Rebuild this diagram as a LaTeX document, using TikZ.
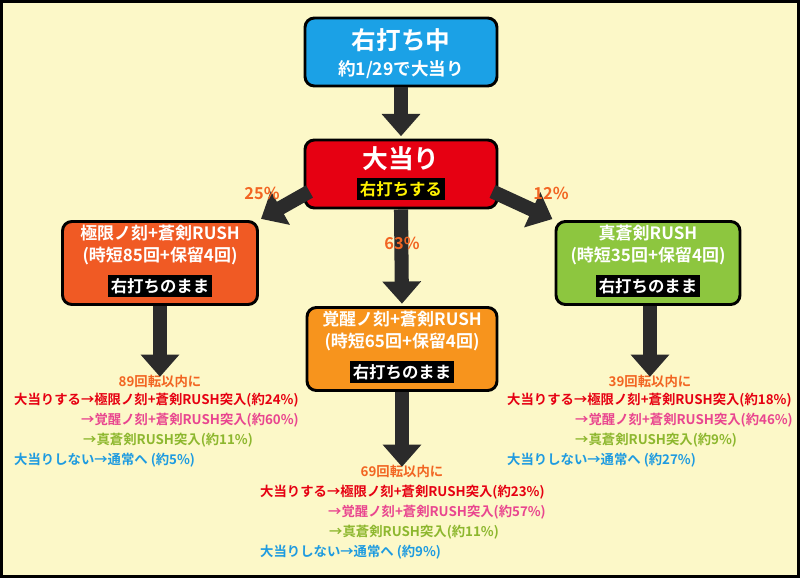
\documentclass[tikz,border=0pt]{standalone}
\usepackage{fontspec}
\setmainfont{Noto Sans CJK JP}[BoldFont={Noto Sans CJK JP Bold}]
\usetikzlibrary{arrows.meta}
\definecolor{bgcream}{HTML}{FCF8C8}
\definecolor{hitred}{HTML}{E60012}
\definecolor{skyblue}{HTML}{1BA1E6}
\definecolor{rushorange}{HTML}{F05A24}
\definecolor{wakeorange}{HTML}{F7941D}
\definecolor{truegreen}{HTML}{8DC63F}
\definecolor{linepink}{HTML}{E9468F}
\definecolor{linegreen}{HTML}{8DB72E}
\definecolor{lineblue}{HTML}{1E9BE0}
\definecolor{pctorange}{HTML}{F26522}
\definecolor{arrowgray}{HTML}{2B2B2B}
\tikzset{
  modebox/.style={draw=black, line width=2.5pt, rounded corners=8pt, font=\bfseries,
    text=white, align=center, inner sep=0pt},
  tag/.style={fill=black, font=\bfseries\fontsize{14pt}{16pt}\selectfont, inner sep=2.5pt},
  flow/.style={arrowgray, line width=12pt, -{Triangle[width=32pt,length=19pt]}, shorten >=2pt},
  pct/.style={pctorange, font=\bfseries\fontsize{14pt}{16pt}\selectfont},
  rline/.style={anchor=west, font=\bfseries\fontsize{11.4pt}{13pt}\selectfont, inner sep=0pt},
  rtitle/.style={pctorange, font=\bfseries\fontsize{11.4pt}{13pt}\selectfont, inner sep=0pt}
}
\begin{document}
\begin{tikzpicture}[x=0.03cm,y=-0.03cm]
  \fill[bgcream] (0,0) rectangle (800,578);
  \draw[black,line width=2.5pt] (1.5,1.5) rectangle (798.5,576.5);
  % boxes
  \node[modebox, fill=skyblue, minimum width=192*0.03cm, minimum height=68*0.03cm] (ride) at (401,52) {};
  \node[white, font=\bfseries\fontsize{21pt}{24pt}\selectfont] at (401,40) {右打ち中};
  \node[white, font=\bfseries\fontsize{15pt}{18pt}\selectfont] at (401,70) {約1/29で大当り};
  \node[modebox, fill=hitred, minimum width=192*0.03cm, minimum height=68*0.03cm] (hit) at (401,174) {};
  \node[white, font=\bfseries\fontsize{22pt}{24pt}\selectfont] at (401,159) {大当り};
  \node[tag, text=yellow] at (401,189) {右打ちする};
  \node[modebox, fill=rushorange, minimum width=195*0.03cm, minimum height=83*0.03cm] (limit) at (160,263) {};
  \node[white, font=\bfseries\fontsize{14.5pt}{19pt}\selectfont, align=center] at (160,245) {極限ノ刻+蒼剣RUSH\\(時短85回+保留4回)};
  \node[tag, text=white] at (160,286) {右打ちのまま};
  \node[modebox, fill=wakeorange, minimum width=190*0.03cm, minimum height=83*0.03cm] (wake) at (402,349) {};
  \node[white, font=\bfseries\fontsize{14.5pt}{19pt}\selectfont, align=center] at (402,331) {覚醒ノ刻+蒼剣RUSH\\(時短65回+保留4回)};
  \node[tag, text=white] at (402,372) {右打ちのまま};
  \node[modebox, fill=truegreen, minimum width=184*0.03cm, minimum height=83*0.03cm] (sword) at (648,263) {};
  \node[white, font=\bfseries\fontsize{14.5pt}{19pt}\selectfont, align=center] at (648,245) {真蒼剣RUSH\\(時短35回+保留4回)};
  \node[tag, text=white] at (648,286) {右打ちのまま};
  % results
  \node[rtitle] (limitres) at (160,381) {89回転以内に};
  \node[rline, hitred] at (14,400) {大当りする→極限ノ刻+蒼剣RUSH突入(約24\%)};
  \node[rline, linepink] at (81,420) {→覚醒ノ刻+蒼剣RUSH突入(約60\%)};
  \node[rline, linegreen] at (83,440) {→真蒼剣RUSH突入(約11\%)};
  \node[rline, lineblue] at (14,460) {大当りしない→通常へ (約5\%)};
  \node[rtitle] (wakeres) at (402,471) {69回転以内に};
  \node[rline, hitred] at (260,492) {大当りする→極限ノ刻+蒼剣RUSH突入(約23\%)};
  \node[rline, linepink] at (328,512) {→覚醒ノ刻+蒼剣RUSH突入(約57\%)};
  \node[rline, linegreen] at (329,532) {→真蒼剣RUSH突入(約11\%)};
  \node[rline, lineblue] at (260,552) {大当りしない→通常へ (約9\%)};
  \node[rtitle] (swordres) at (650,381) {39回転以内に};
  \node[rline, hitred] at (507,400) {大当りする→極限ノ刻+蒼剣RUSH突入(約18\%)};
  \node[rline, linepink] at (575,420) {→覚醒ノ刻+蒼剣RUSH突入(約46\%)};
  \node[rline, linegreen] at (575,440) {→真蒼剣RUSH突入(約9\%)};
  \node[rline, lineblue] at (507,460) {大当りしない→通常へ (約27\%)};
  % arrows
  \draw[flow] (hit.south west) ++(6,-18) -- (limit.north east);
  \draw[flow] (hit.south) -- (wake.north);
  \draw[flow] (hit.south east) ++(-6,-18) -- (sword.north west);
  \draw[flow] (ride.south) -- (hit.north);
  \draw[flow] (limit.south) -- ([yshift=-4pt]limitres.north);
  \draw[flow] (wake.south) -- ([yshift=-4pt]wakeres.north);
  \draw[flow] (sword.south) ++(2,0) -- ([yshift=-4pt]swordres.north);
  \node[pct] at (262,193) {25\%};
  \node[pct] at (402,243) {63\%};
  \node[pct] at (551,193) {12\%};
\end{tikzpicture}
\end{document}
